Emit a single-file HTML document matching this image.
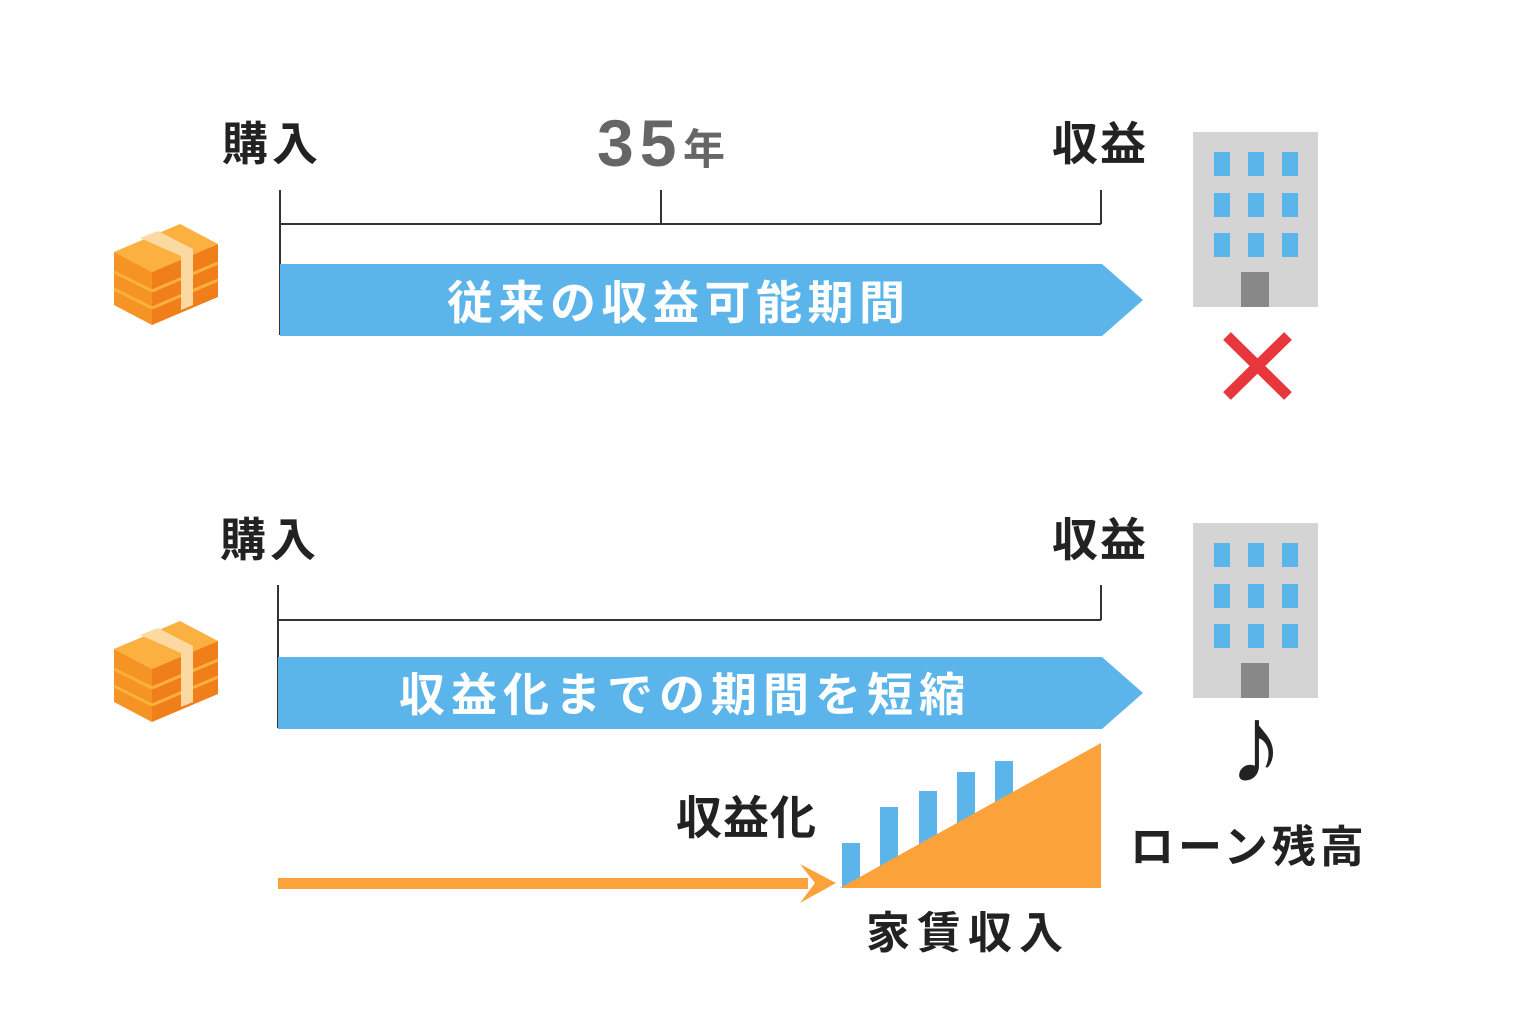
<!DOCTYPE html>
<html><head><meta charset="utf-8"><style>
body{margin:0;background:#fff}
svg text{font-family:"Liberation Sans","Noto Sans CJK JP",sans-serif;font-weight:bold}
</style></head><body>
<svg width="1536" height="1024" xmlns="http://www.w3.org/2000/svg">
<defs>
<g id="box">
<polygon points="114,252 180,224 218,244 152,272" fill="#fbb040"/>
<polygon points="114,252 152,272 152,325 114,305" fill="#f59422"/>
<polygon points="152,272 218,244 218,297 152,325" fill="#f07f1a"/>
<line x1="114" y1="272" x2="152" y2="291" stroke="#fbb040" stroke-width="3"/>
<line x1="114" y1="289" x2="152" y2="308" stroke="#fbb040" stroke-width="3"/>
<line x1="152" y1="291" x2="218" y2="263" stroke="#fbb040" stroke-width="3"/>
<line x1="152" y1="308" x2="218" y2="280" stroke="#fbb040" stroke-width="3"/>
<polygon points="140,238 158,231 193,249 193,305 181,310 181,256" fill="#fcd9a0"/>
</g>
<g id="bld">
<rect x="1193" y="132" width="125" height="175" fill="#d4d4d4"/>
<g fill="#5bb4ea">
<rect x="1214" y="152" width="16" height="24"/><rect x="1248" y="152" width="16" height="24"/><rect x="1282" y="152" width="16" height="24"/>
<rect x="1214" y="193" width="16" height="24"/><rect x="1248" y="193" width="16" height="24"/><rect x="1282" y="193" width="16" height="24"/>
<rect x="1214" y="233" width="16" height="24"/><rect x="1248" y="233" width="16" height="24"/><rect x="1282" y="233" width="16" height="24"/>
</g>
<rect x="1241" y="272" width="28" height="35" fill="#888"/>
</g>
</defs>

<!-- Top -->
<text x="222" y="160" font-size="46" fill="#222" letter-spacing="4">購入</text>
<text x="597" y="166" font-size="66" fill="#666" letter-spacing="6">35</text>
<text x="683" y="164" font-size="42" fill="#666">年</text>
<text x="1052" y="160" font-size="46" fill="#222" letter-spacing="2">収益</text>
<path d="M280 190V335M280 224H1101M661 190V224M1101 190V224" stroke="#333" stroke-width="2" fill="none"/>
<polygon points="280,264 1102,264 1143,300 1102,336 280,336" fill="#5bb4ea"/>
<text x="447" y="319" font-size="46" fill="#fff" letter-spacing="5.5">従来の収益可能期間</text>
<use href="#box"/>
<use href="#bld"/>
<path d="M1227 336L1288 396M1288 336L1227 396" stroke="#e8373c" stroke-width="11"/>

<!-- Bottom -->
<text x="220" y="556" font-size="46" fill="#222" letter-spacing="4">購入</text>
<text x="1052" y="556" font-size="46" fill="#222" letter-spacing="2">収益</text>
<path d="M278 585V728M278 620H1101M1101 585V620" stroke="#333" stroke-width="2" fill="none"/>
<polygon points="278,657 1102,657 1143,693 1102,729 278,729" fill="#5bb4ea"/>
<text x="399" y="711" font-size="46" fill="#fff" letter-spacing="6">収益化までの期間を短縮</text>
<use href="#box" transform="translate(0,397)"/>
<use href="#bld" transform="translate(0,391)"/>
<text x="1256" y="782" font-size="110" fill="#222" text-anchor="middle">♪</text>
<text x="1130" y="862" font-size="44" fill="#222" letter-spacing="4">ローン残高</text>
<text x="676" y="834" font-size="46" fill="#222" letter-spacing="1">収益化</text>
<text x="866" y="948" font-size="44" fill="#222" letter-spacing="7">家賃収入</text>
<g fill="#5bb4ea">
<rect x="842" y="843" width="18" height="45"/><rect x="880" y="807" width="18" height="80"/>
<rect x="919" y="791" width="18" height="96"/><rect x="957" y="772" width="18" height="116"/>
<rect x="995" y="761" width="18" height="126"/>
</g>
<polygon points="840,888 1101,888 1101,743" fill="#fba23a"/>
<rect x="278" y="878" width="530" height="11" fill="#fba23a"/>
<polygon points="800,864 836,883 800,903 815,883" fill="#fba23a"/>
</svg>
</body></html>
